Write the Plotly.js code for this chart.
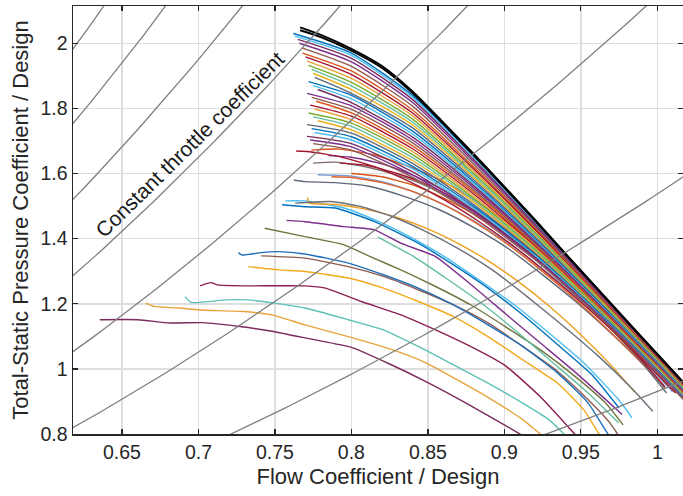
<!DOCTYPE html>
<html><head><meta charset="utf-8">
<script src="https://cdn.plot.ly/plotly-3.0.1.min.js"></script>
<style>html,body{margin:0;padding:0;background:#fff}#chart{width:683px;height:496px}</style>
</head><body><div id="chart"></div>
<script>
// ---------- axis ticks ----------
const xTickVals = [0.65, 0.7, 0.75, 0.8, 0.85, 0.9, 0.95, 1];
const xTickText = ['0.65', '0.7', '0.75', '0.8', '0.85', '0.9', '0.95', '1'];
const yTickVals = [0.8, 1, 1.2, 1.4, 1.6, 1.8, 2];
const yTickText = ['0.8', '1', '1.2', '1.4', '1.6', '1.8', '2'];

// ---------- constant throttle coefficients (psi = k * phi^2) ----------
const throttleCoeffs = [0.93, 1.537, 2.145, 2.755, 3.366, 3.98, 4.59, 5.19];
const throttlePhiRange = [0.6, 1.03];

// ---------- lower / middle characteristics (read individually) ----------
const lowFlow = [
  [0.6355,0.6605,0.6813,0.703,0.727,0.749,0.773,0.80,0.825,0.85,0.875,0.90,0.912],
  [0.6655,0.671,0.687,0.701,0.7297,0.748,0.7696,0.798,0.8266,0.849,0.869,0.892,0.912,0.9235,0.928],
  [0.6912,0.6954,0.718,0.7325,0.7496,0.7696,0.798,0.8209,0.8437,0.8665,0.8893,0.912,0.9292,0.939,0.943],
  [0.7011,0.7082,0.7126,0.7297,0.7696,0.783,0.8066,0.8323,0.855,0.8779,0.9006,0.9234,0.946,0.95],
  [0.7325,0.7524,0.7696,0.798,0.8209,0.8437,0.8665,0.8893,0.912,0.9349,0.952,0.962,0.966],
  [0.741,0.7696,0.798,0.8209,0.8437,0.8665,0.8893,0.912,0.9349,0.9548,0.969,0.974],
  [0.7262,0.7282,0.741,0.7524,0.7696,0.798,0.8209,0.8437,0.8665,0.8893,0.912,0.9349,0.9548,0.9677,0.971],
  [0.7433,0.7696,0.7952,0.8123,0.8323,0.855,0.8779,0.9006,0.9234,0.9462,0.9662,0.9776],
  [0.7576,0.7696,0.7952,0.815,0.8323,0.855,0.8779,0.9006,0.9234,0.9463,0.977],
  [0.7568,0.7696,0.7952,0.818,0.838,0.8608,0.8836,0.9064,0.9292,0.952,0.9748,0.9834],
  [0.7547,0.7696,0.7895,0.8152,0.8437,0.8665,0.8893,0.912,0.9349,0.9577,0.975],
  [0.7713,0.7724,0.79,0.81,0.83,0.85,0.87,0.89,0.91,0.93,0.95,0.97,0.985],
  [0.8174,0.8408,0.8636,0.8864,0.9092,0.932,0.9548,0.9748],
  [0.7633,0.7866,0.8066,0.8266,0.8465,0.8693,0.8921,0.9149,0.9377,0.9606,0.9834,0.997],
  [0.7624,0.7696,0.7895,0.8123,0.835,0.8579,0.8807,0.9036,0.9263,0.9491,0.9719,0.9919,1.006],
  [0.778,0.80,0.82,0.84,0.86,0.88,0.90,0.92,0.94,0.96,0.98,1.0,1.01],
  [0.787,0.80,0.82,0.84,0.86,0.88,0.90,0.92,0.94,0.96,0.98,0.995],
  [0.775,0.79,0.81,0.83,0.85,0.87,0.89,0.91,0.93,0.95,0.97,0.99,1.005],
  [0.7925,0.81,0.83,0.85,0.87,0.89,0.91,0.93,0.95,0.97,0.99,1.005],
  [0.80,0.82,0.84,0.86,0.88,0.90,0.92,0.94,0.96,0.98,0.995],
  [0.785,0.80,0.82,0.84,0.86,0.88,0.90,0.92,0.94,0.96,0.98,1.0,1.015],
  [0.7639,0.7724,0.7923,0.8152,0.838,0.8608,0.8836,0.9064,0.9292,0.952,0.9748,0.995,1.012],
  [0.7738,0.7923,0.8152,0.838,0.86,0.88,0.90,0.92,0.94,0.96,0.98,1.0,1.02]
];
const lowPsi = [
  [1.151,1.151,1.141,1.142,1.130,1.115,1.092,1.066,1.015,0.958,0.895,0.828,0.795],
  [1.202,1.192,1.187,1.181,1.176,1.166,1.135,1.099,1.059,1.018,0.967,0.905,0.844,0.80,0.785],
  [1.222,1.204,1.212,1.212,1.202,1.187,1.151,1.12,1.069,1.013,0.956,0.895,0.844,0.80,0.785],
  [1.255,1.265,1.258,1.255,1.255,1.248,1.207,1.166,1.12,1.069,1.01,0.915,0.80,0.78],
  [1.314,1.304,1.299,1.279,1.248,1.207,1.161,1.099,1.028,0.956,0.874,0.80,0.78],
  [1.347,1.34,1.314,1.284,1.243,1.197,1.141,1.069,0.992,0.905,0.834,0.80],
  [1.357,1.35,1.357,1.36,1.353,1.325,1.289,1.248,1.197,1.135,1.069,0.987,0.895,0.80,0.78],
  [1.432,1.406,1.381,1.345,1.304,1.253,1.197,1.13,1.059,0.977,0.895,0.828],
  [1.456,1.452,1.437,1.427,1.386,1.345,1.26,1.17,1.08,0.99,0.86],
  [1.516,1.516,1.494,1.452,1.406,1.345,1.273,1.197,1.11,1.018,0.905,0.85],
  [1.504,1.498,1.494,1.452,1.386,1.32,1.248,1.166,1.074,0.98,0.88],
  [1.527,1.509,1.505,1.49,1.465,1.43,1.385,1.33,1.265,1.19,1.105,1.01,0.93],
  [1.405,1.345,1.273,1.197,1.11,1.018,0.926,0.834],
  [1.509,1.514,1.498,1.468,1.427,1.371,1.304,1.222,1.135,1.043,0.94,0.87],
  [1.58,1.575,1.572,1.56,1.529,1.488,1.432,1.366,1.284,1.197,1.1,1.007,0.926],
  [1.596,1.592,1.575,1.545,1.505,1.455,1.395,1.325,1.25,1.165,1.075,0.98,0.93],
  [1.59,1.588,1.572,1.545,1.505,1.452,1.39,1.318,1.24,1.155,1.065,0.995],
  [1.632,1.635,1.62,1.595,1.56,1.51,1.45,1.38,1.30,1.215,1.12,1.02,0.94],
  [1.632,1.625,1.60,1.565,1.515,1.455,1.385,1.305,1.22,1.125,1.025,0.945],
  [1.60,1.59,1.565,1.525,1.475,1.415,1.345,1.265,1.18,1.085,1.01],
  [1.655,1.65,1.63,1.595,1.55,1.495,1.43,1.355,1.275,1.19,1.095,0.995,0.92],
  [1.669,1.667,1.652,1.621,1.575,1.519,1.452,1.376,1.289,1.197,1.1,1.007,0.926],
  [1.672,1.675,1.657,1.621,1.575,1.52,1.455,1.385,1.305,1.22,1.13,1.035,0.94]
];
const lowColors = ['#7B2A5B','#E8A33C','#5CC0B5','#8B1F52','#F2A91C','#8E5B4F','#1F6FB8',
  '#72753F','#7E2F8E','#4DBEEE','#0072BD','#EDA020','#62BFA0','#6B6F7A','#5E6878',
  '#7A9AD0','#E0622A','#7D6A66','#A2142F','#D95319','#7E2F8E','#A2142F','#D95319'];

// ---------- upper bundle (start flow, then psi at the grid points) ----------
const bundleFlowStart = [0.762,0.763,0.765,0.766,0.768,0.768,0.770,0.771,0.772,0.774,0.775,0.776,0.772,0.775,
  0.778,0.771,0.774,0.777,0.773,0.776,0.772,0.775,0.778,0.771,0.774,0.776,0.771,0.773,0.775];
const bundleFlowGrid = [0.80, 0.84, 0.88, 0.92, 0.96, 1.00, 1.03];
const bundlePsi = [
  [2.030,1.970,1.840,1.652,1.451,1.246,1.042,0.890],
  [2.022,1.963,1.834,1.648,1.449,1.245,1.041,0.889],
  [2.012,1.954,1.827,1.642,1.445,1.242,1.040,0.887],
  [2.000,1.943,1.818,1.636,1.441,1.240,1.038,0.886],
  [1.985,1.929,1.807,1.628,1.436,1.236,1.035,0.884],
  [1.970,1.915,1.795,1.620,1.431,1.233,1.033,0.881],
  [1.958,1.904,1.786,1.614,1.427,1.230,1.031,0.880],
  [1.945,1.892,1.777,1.607,1.422,1.227,1.029,0.878],
  [1.932,1.880,1.767,1.600,1.418,1.224,1.027,0.876],
  [1.920,1.869,1.758,1.594,1.414,1.221,1.025,0.874],
  [1.908,1.858,1.749,1.588,1.409,1.219,1.023,0.873],
  [1.895,1.846,1.740,1.581,1.405,1.216,1.021,0.871],
  [1.882,1.840,1.730,1.574,1.400,1.213,1.019,0.869],
  [1.870,1.829,1.721,1.568,1.396,1.210,1.017,0.867],
  [1.858,1.818,1.712,1.562,1.392,1.207,1.015,0.866],
  [1.846,1.808,1.703,1.556,1.388,1.205,1.013,0.864],
  [1.834,1.797,1.694,1.549,1.384,1.202,1.011,0.862],
  [1.822,1.786,1.685,1.543,1.380,1.199,1.009,0.861],
  [1.810,1.776,1.676,1.537,1.376,1.196,1.007,0.859],
  [1.798,1.765,1.667,1.530,1.372,1.194,1.006,0.857],
  [1.786,1.755,1.658,1.524,1.367,1.191,1.004,0.856],
  [1.774,1.745,1.649,1.518,1.363,1.188,1.002,0.854],
  [1.762,1.734,1.640,1.512,1.359,1.185,1.000,0.852],
  [1.750,1.724,1.631,1.505,1.355,1.182,0.998,0.850],
  [1.738,1.713,1.622,1.499,1.351,1.180,0.996,0.849],
  [1.726,1.703,1.614,1.493,1.347,1.177,0.994,0.847],
  [1.714,1.692,1.605,1.487,1.343,1.174,0.992,0.845],
  [1.703,1.682,1.596,1.481,1.339,1.172,0.991,0.844],
  [1.692,1.672,1.588,1.475,1.335,1.169,0.989,0.842]
];
const bundleColors = ['#0072BD','#D95319','#EDB120','#7E2F8E','#77AC30','#4DBEEE','#A2142F',
  '#5E6878','#8E5B4F','#62BFA0','#7B2A5B','#E8A33C'];

// ---------- top (black) characteristics ----------
const topFlow = [0.7665,0.78,0.80,0.82,0.84,0.86,0.88,0.90,0.92,0.94,0.96,0.98,1.00,1.03];
const topPsiA = [2.049,2.026,1.983,1.930,1.852,1.757,1.660,1.560,1.458,1.354,1.251,1.148,1.046,0.893];
const topPsiB = [2.040,2.019,1.977,1.924,1.847,1.753,1.656,1.557,1.455,1.352,1.249,1.146,1.044,0.892];

// ---------- build traces ----------
const traces = [];
lowFlow.forEach((xs, i) => {
  traces.push({x: xs, y: lowPsi[i], type: 'scatter', mode: 'lines',
    line: {color: lowColors[i % lowColors.length], width: 1.4, shape: 'spline', smoothing: 0.5},
    hoverinfo: 'skip'});
});
bundlePsi.forEach((ys, i) => {
  traces.push({x: [bundleFlowStart[i]].concat(bundleFlowGrid), y: ys, type: 'scatter', mode: 'lines',
    line: {color: bundleColors[(i * 5) % bundleColors.length], width: 1.4, shape: 'spline', smoothing: 0.6},
    hoverinfo: 'skip'});
});
[topPsiB, topPsiA].forEach(ys => {
  traces.push({x: topFlow, y: ys, type: 'scatter', mode: 'lines',
    line: {color: '#000000', width: 1.9, shape: 'spline', smoothing: 0.6}, hoverinfo: 'skip'});
});
// constant throttle lines on top
throttleCoeffs.forEach(k => {
  const xs = [], ys = [];
  const n = 80;
  for (let j = 0; j <= n; j++) {
    const phi = throttlePhiRange[0] + (throttlePhiRange[1] - throttlePhiRange[0]) * j / n;
    xs.push(phi); ys.push(k * phi * phi);
  }
  traces.push({x: xs, y: ys, type: 'scatter', mode: 'lines',
    line: {color: '#7f7f7f', width: 1.3}, hoverinfo: 'skip'});
});

const fontFam = 'Liberation Sans, Arial, Helvetica, sans-serif';
const layout = {
  width: 683, height: 496,
  margin: {l: 73, r: 0, t: 6, b: 62, pad: 0},
  paper_bgcolor: '#ffffff', plot_bgcolor: '#ffffff',
  showlegend: false,
  font: {family: fontFam, color: '#262626'},
  xaxis: {
    range: [0.618, 1.0168], tickvals: xTickVals, ticktext: xTickText,
    ticks: 'inside', ticklen: 5, tickwidth: 1.3, tickcolor: '#262626',
    showline: true, linecolor: '#262626', linewidth: 1.5, mirror: 'ticks',
    showgrid: true, gridcolor: '#dedede', gridwidth: 1.5, zeroline: false,
    tickfont: {size: 19.5, family: fontFam, color: '#262626'},
    title: {text: 'Flow Coefficient / Design', font: {size: 22, family: fontFam, color: '#262626'}, standoff: 6},
    automargin: false
  },
  yaxis: {
    range: [0.8, 2.1145], tickvals: yTickVals, ticktext: yTickText,
    ticks: 'inside', ticklen: 5, tickwidth: 1.3, tickcolor: '#262626',
    showline: true, linecolor: '#262626', linewidth: 1.5, mirror: 'ticks',
    showgrid: true, gridcolor: '#dedede', gridwidth: 1.5, zeroline: false,
    tickfont: {size: 19.5, family: fontFam, color: '#262626'},
    title: {text: 'Total-Static Pressure Coefficient / Design', font: {size: 22, family: fontFam, color: '#262626'}, standoff: 6},
    automargin: false
  },
  annotations: [{
    text: 'Constant throttle coefficient', x: 0.6944, y: 1.688, xref: 'x', yref: 'y',
    showarrow: false, textangle: -44.5,
    font: {size: 21, family: fontFam, color: '#1a1a1a'}
  }]
};
Plotly.newPlot('chart', traces, layout, {staticPlot: true, displayModeBar: false});
</script>
</body></html>
